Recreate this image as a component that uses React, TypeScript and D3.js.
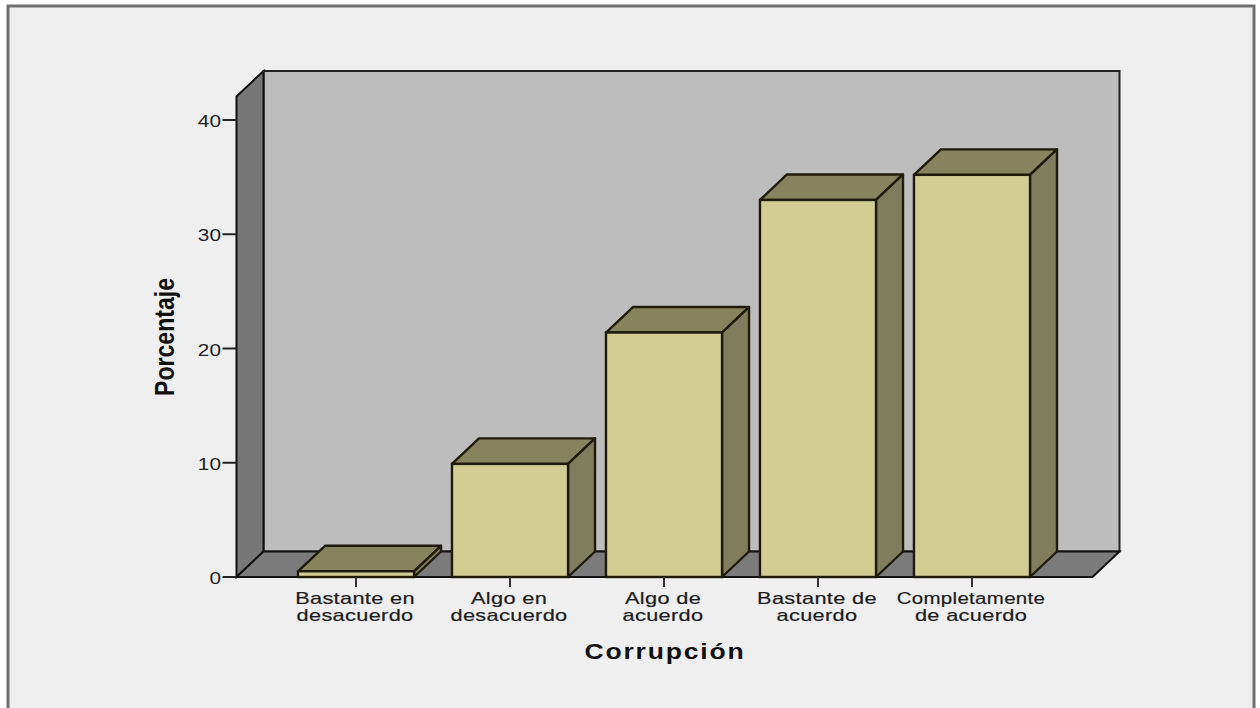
import React from "react";
import * as d3 from "d3";

const categories = ["Bastante en desacuerdo", "Algo en desacuerdo", "Algo de acuerdo", "Bastante de acuerdo", "Completamente de acuerdo"];
const labelLines = [["Bastante en", "desacuerdo"], ["Algo en", "desacuerdo"], ["Algo de", "acuerdo"], ["Bastante de", "acuerdo"], ["Completamente", "de acuerdo"]];
const percentages = [0.5, 9.9, 21.4, 33, 35.2];
const yTicks = [0, 10, 20, 30, 40];

const W = 1260, H = 708;
const dx = 27, dy = -25.5;
const y = d3.scaleLinear().domain([0, 40]).range([577, 120]);
const x = d3.scaleBand<string>().domain(categories).range([298, 1030]).paddingInner(0.2464).paddingOuter(0);
const left = 236.5, right = 1092.5, top = 96.5, base = y(0);
const line = d3.line();
const poly = (p: [number, number][]) => line(p) + "Z";
const stroke = "#1f1b0c";
const font = "'Liberation Sans', Arial, sans-serif";

export default function App() {
  return (
    <svg width={W} height={H} viewBox={`0 0 ${W} ${H}`} style={{ position: "absolute", left: 0, top: 0, display: "block", background: "#fff" }}>
      <rect x={8} y={6} width={1246} height={720} fill="#efefef" stroke="#707070" strokeWidth={3} />
      <path d={poly([[left + dx, top + dy], [right + dx, top + dy], [right + dx, base + dy], [left + dx, base + dy]])} fill="#bdbdbd" stroke="#222" strokeWidth={2} />
      <path d={poly([[left, top], [left + dx, top + dy], [left + dx, base + dy], [left, base]])} fill="#777" stroke="#111" strokeWidth={2} />
      <path d={poly([[left, base], [left + dx, base + dy], [right + dx, base + dy], [right, base]])} fill="#7b7b7b" stroke="#111" strokeWidth={2} />
      {yTicks.map((t) => (
        <g key={t}>
          <line x1={left - 14} x2={left} y1={y(t)} y2={y(t)} stroke="#222" strokeWidth={2} />
          <text transform={`translate(221,${y(t) + 7}) scale(1.3,1)`} textAnchor="end" fontFamily={font} fontSize={16} fill="#222">{t}</text>
        </g>
      ))}
      {categories.map((c, i) => {
        const x0 = x(c)!, x1 = x0 + x.bandwidth(), yt = y(percentages[i]);
        const cx = x0 + x.bandwidth() / 2;
        return (
          <g key={c}>
            <path d={poly([[x0, yt], [x0 + dx, yt + dy], [x1 + dx, yt + dy], [x1, yt]])} fill="#87835c" stroke={stroke} strokeWidth={2.4} strokeLinejoin="round" />
            <path d={poly([[x1, yt], [x1 + dx, yt + dy], [x1 + dx, base + dy], [x1, base]])} fill="#7f7d5c" stroke={stroke} strokeWidth={2.4} strokeLinejoin="round" />
            <rect x={x0} y={yt} width={x1 - x0} height={base - yt} fill="#d2cd92" stroke={stroke} strokeWidth={2.4} />
            <line x1={cx} x2={cx} y1={base} y2={base + 10} stroke="#333" strokeWidth={2} />
            {labelLines[i].map((l, j) => (
              <text key={l} transform={`translate(${cx - 1},${604 + j * 17}) scale(${l === "Completamente" ? 1.28 : 1.36},1)`} textAnchor="middle" fontFamily={font} fontSize={16} letterSpacing={0.25} fill="#1c1c1c" stroke="#1c1c1c" strokeWidth={0.2}>{l}</text>
            ))}
          </g>
        );
      })}
      <text x={665} y={659} textAnchor="middle" fontFamily={font} fontWeight="bold" fontSize={22} letterSpacing={1.5} textLength={161} lengthAdjust="spacingAndGlyphs" fill="#111">Corrupción</text>
      <text transform="translate(174,337) rotate(-90)" textAnchor="middle" fontFamily={font} fontWeight="bold" fontSize={28} textLength={118} lengthAdjust="spacingAndGlyphs" fill="#111">Porcentaje</text>
    </svg>
  );
}
